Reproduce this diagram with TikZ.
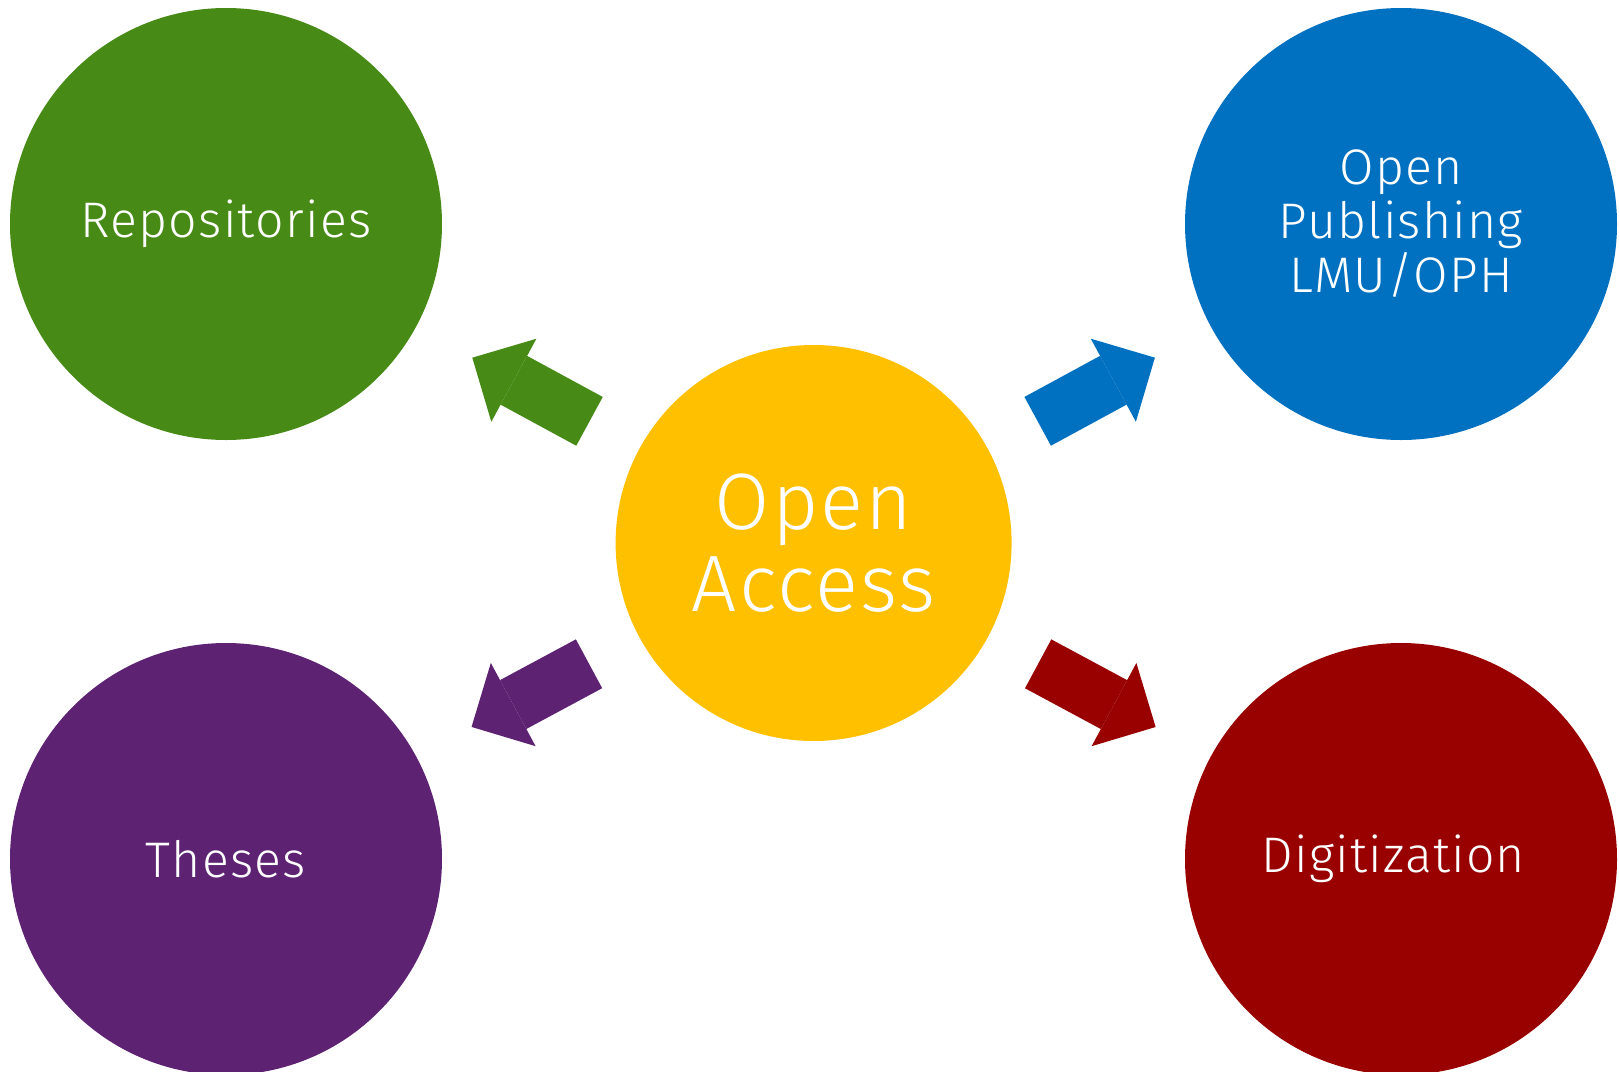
\documentclass[tikz,border=0pt]{standalone}
\usepackage{fontspec}
\setmainfont{Fira Sans}[UprightFont=* Light, LetterSpace=2.5]
\usetikzlibrary{calc,arrows.meta}
\definecolor{oayellow}{HTML}{FFC000}
\definecolor{oagreen}{HTML}{478A16}
\definecolor{oablue}{HTML}{0070C0}
\definecolor{oapurple}{HTML}{5D2372}
\definecolor{oared}{HTML}{990000}
\begin{document}
\begin{tikzpicture}[
        x=1pt, y=-1pt,
        hub/.style={circle, fill=oayellow, text=white, minimum size=396pt, inner sep=0pt, align=center, font=\fontsize{80}{82}\selectfont},
        field/.style={circle, fill=#1, text=white, minimum size=432pt, inner sep=0pt, align=center, font=\fontsize{50}{54}\selectfont},
        flow/.style={draw=#1, line width=55.5pt, -{Triangle[length=47.3pt, width=94.5pt, line width=0pt]}}
    ]
        \useasboundingbox (0,0) rectangle (1619,1071);
        % Open Access hub with its four fields
        \node[hub] (hub) at (813.6,543) {Open\\Access};
        \foreach \name/\pos/\col/\txt in {
            repo/{226,224}/oagreen/Repositories,
            publ/{1401,224}/oablue/{Open\\Publishing\\LMU/OPH},
            thes/{226,859}/oapurple/Theses,
            digi/{1401,859}/oared/Digitization
        } {
            \node[field=\col] (\name) at (\pos) {\txt};
            \draw[flow=\col] ($(hub.center)!255pt!(\name.center)$) -- ($(hub.center)!388.4pt!(\name.center)$);
        }
\end{tikzpicture}
\end{document}
